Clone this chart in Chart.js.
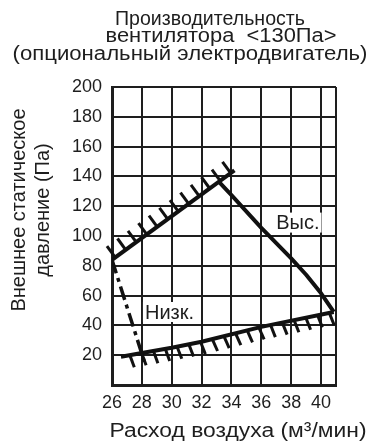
<!DOCTYPE html>
<html>
<head>
<meta charset="utf-8">
<script src="https://cdn.jsdelivr.net/npm/chart.js@4.4.1/dist/chart.umd.min.js"></script>
<style>
  html, body { margin: 0; padding: 0; background: #fff; }
</style>
</head>
<body>
<canvas id="fanChart" width="374" height="446"></canvas>
<script>
// Fan performance: air flow (m3/min) vs external static pressure (Pa)
const xTicks = [26, 28, 30, 32, 34, 36, 38, 40];
const xMax = 41;
const yTicks = [0, 20, 40, 60, 80, 100, 120, 140, 160, 180, 200];

const highX = [33.1, 34, 36, 38, 39, 40, 40.85];
const highY = [137, 127.5, 105.5, 85, 74, 61.5, 49];
const lowX = [26, 28.25];
const lowY = [84, 13];
const upperLimitX = [26, 34.2];
const upperLimitY = [84, 144];
const lowerLimitX = [26.6, 28, 30, 32, 36, 40.85];
const lowerLimitY = [19, 21.5, 25, 29, 39, 49];

const curveLabels = ['Выс.', 'Низк.'];
const curveLabelX = [38.45, 29.85];
const curveLabelY = [109, 49];

const titleLines = ['Производительность', 'вентилятора  <130Па>', '(опциональный электродвигатель)'];
const yTitleLines = ['Внешнее статическое', 'давление (Па)'];
const xTitle = 'Расход воздуха (м³/мин)';

const ink = '#1e1e1e';
const font = '"Liberation Sans", Arial, sans-serif';

const pts = (xs, ys) => xs.map((x, i) => ({ x, y: ys[i] }));

// draw text centred at cx, stretched to a given width
function wideText(ctx, t, cx, y, w) {
    const natural = ctx.measureText(t).width;
    ctx.save();
    ctx.translate(cx, y);
    ctx.scale(w / natural, 1);
    ctx.fillText(t, 0, 0);
    ctx.restore();
}

// short strokes along a limit line
const hatchPlugin = {
    id: 'hatch',
    afterDatasetsDraw(chart) {
        const ctx = chart.ctx;
        chart.data.datasets.forEach((ds, i) => {
            const h = ds.hatch;
            if (!h) return;
            const p = chart.getDatasetMeta(i).data;
            ctx.save();
            ctx.strokeStyle = ds.borderColor;
            ctx.lineWidth = h.width;
            let carry = h.start;
            for (let k = 1; k < p.length; k++) {
                const a = p[k - 1], b = p[k];
                const dx = b.x - a.x, dy = b.y - a.y;
                const len = Math.hypot(dx, dy);
                const ux = dx / len, uy = dy / len;
                const nx = h.side * uy, ny = -h.side * ux;
                const t = h.tilt * Math.PI / 180;
                const rx = nx * Math.cos(t) - ny * Math.sin(t);
                const ry = nx * Math.sin(t) + ny * Math.cos(t);
                let d = carry;
                while (d <= len) {
                    const px = a.x + ux * d, py = a.y + uy * d;
                    ctx.beginPath();
                    ctx.moveTo(px, py);
                    ctx.lineTo(px + rx * h.length, py + ry * h.length);
                    ctx.stroke();
                    d += h.spacing;
                }
                carry = d - len;
            }
            ctx.restore();
        });
    }
};

// titles and curve names
const textPlugin = {
    id: 'texts',
    beforeDatasetsDraw(chart) {
        const { ctx, scales: { x, y } } = chart;
        ctx.save();
        ctx.font = '20px ' + font;
        ctx.textAlign = 'center';
        ctx.textBaseline = 'middle';
        curveLabels.forEach((t, i) => {
            const cx = x.getPixelForValue(curveLabelX[i]);
            const cy = y.getPixelForValue(curveLabelY[i]);
            const w = ctx.measureText(t).width;
            ctx.fillStyle = '#fff';
            ctx.fillRect(cx - w / 2 - 2, cy - 10, w + 4, 20);
            ctx.fillStyle = ink;
            ctx.fillText(t, cx, cy + 1);
        });
        ctx.restore();
    },
    afterDraw(chart) {
        const ctx = chart.ctx;
        ctx.save();
        ctx.fillStyle = ink;
        ctx.textAlign = 'center';
        ctx.textBaseline = 'alphabetic';
        ctx.font = '20px ' + font;
        const tCenters = [210, 221, 190];
        const tBase = [25, 42, 60];
        const tWidths = [190, 231, 355];
        titleLines.forEach((t, i) => wideText(ctx, t, tCenters[i], tBase[i], tWidths[i]));

        wideText(ctx, xTitle, 238, 437, 257);

        const yBase = [25, 49];
        yTitleLines.forEach((t, i) => {
            ctx.save();
            ctx.translate(yBase[i], 210);
            ctx.rotate(-Math.PI / 2);
            ctx.fillText(t, 0, 0);
            ctx.restore();
        });
        ctx.restore();
    }
};

new Chart(document.getElementById('fanChart'), {
    type: 'line',
    data: {
        datasets: [
            {
                label: 'Выс.',
                data: pts(highX, highY),
                borderColor: '#111',
                borderWidth: 4
            },
            {
                label: 'Низк.',
                data: pts(lowX, lowY),
                borderColor: '#111',
                borderWidth: 3.5,
                borderDash: [14, 5, 4, 5]
            },
            {
                label: 'upper limit',
                data: pts(upperLimitX, upperLimitY),
                borderColor: '#111',
                borderWidth: 4,
                hatch: { side: 1, tilt: 0, spacing: 13, length: 14, width: 3, start: 4 }
            },
            {
                label: 'lower limit',
                data: pts(lowerLimitX, lowerLimitY),
                borderColor: '#111',
                borderWidth: 4,
                hatch: { side: -1, tilt: -10, spacing: 12, length: 13, width: 3, start: 9 }
            }
        ]
    },
    options: {
        responsive: false,
        animation: false,
        layout: { padding: { top: 87, right: 38, bottom: 0, left: 0 } },
        elements: {
            point: { radius: 0 },
            line: { tension: 0, borderCapStyle: 'butt', borderJoinStyle: 'round' }
        },
        plugins: {
            legend: { display: false },
            tooltip: { enabled: false }
        },
        scales: {
            x: {
                type: 'linear',
                min: xTicks[0],
                max: xMax,
                afterBuildTicks: axis => {
                    axis.ticks = [...xTicks, xMax].map(v => ({ value: v }));
                },
                afterFit: s => { s.height = 61; },
                grid: { color: ink, lineWidth: 2, drawTicks: false },
                border: { color: ink, width: 3 },
                ticks: {
                    padding: 7,
                    color: ink,
                    font: { family: font, size: 18 },
                    maxRotation: 0,
                    callback: v => xTicks.includes(v) ? v : ''
                }
            },
            y: {
                min: yTicks[0],
                max: yTicks[yTicks.length - 1],
                afterBuildTicks: axis => {
                    axis.ticks = yTicks.map(v => ({ value: v }));
                },
                afterFit: s => { s.width = 112; },
                grid: { color: ink, lineWidth: 2, drawTicks: false },
                border: { color: ink, width: 3 },
                ticks: {
                    padding: 10,
                    color: ink,
                    font: { family: font, size: 18 },
                    callback: v => v === 0 ? '' : v
                }
            }
        }
    },
    plugins: [textPlugin, hatchPlugin]
});
</script>
</body>
</html>
